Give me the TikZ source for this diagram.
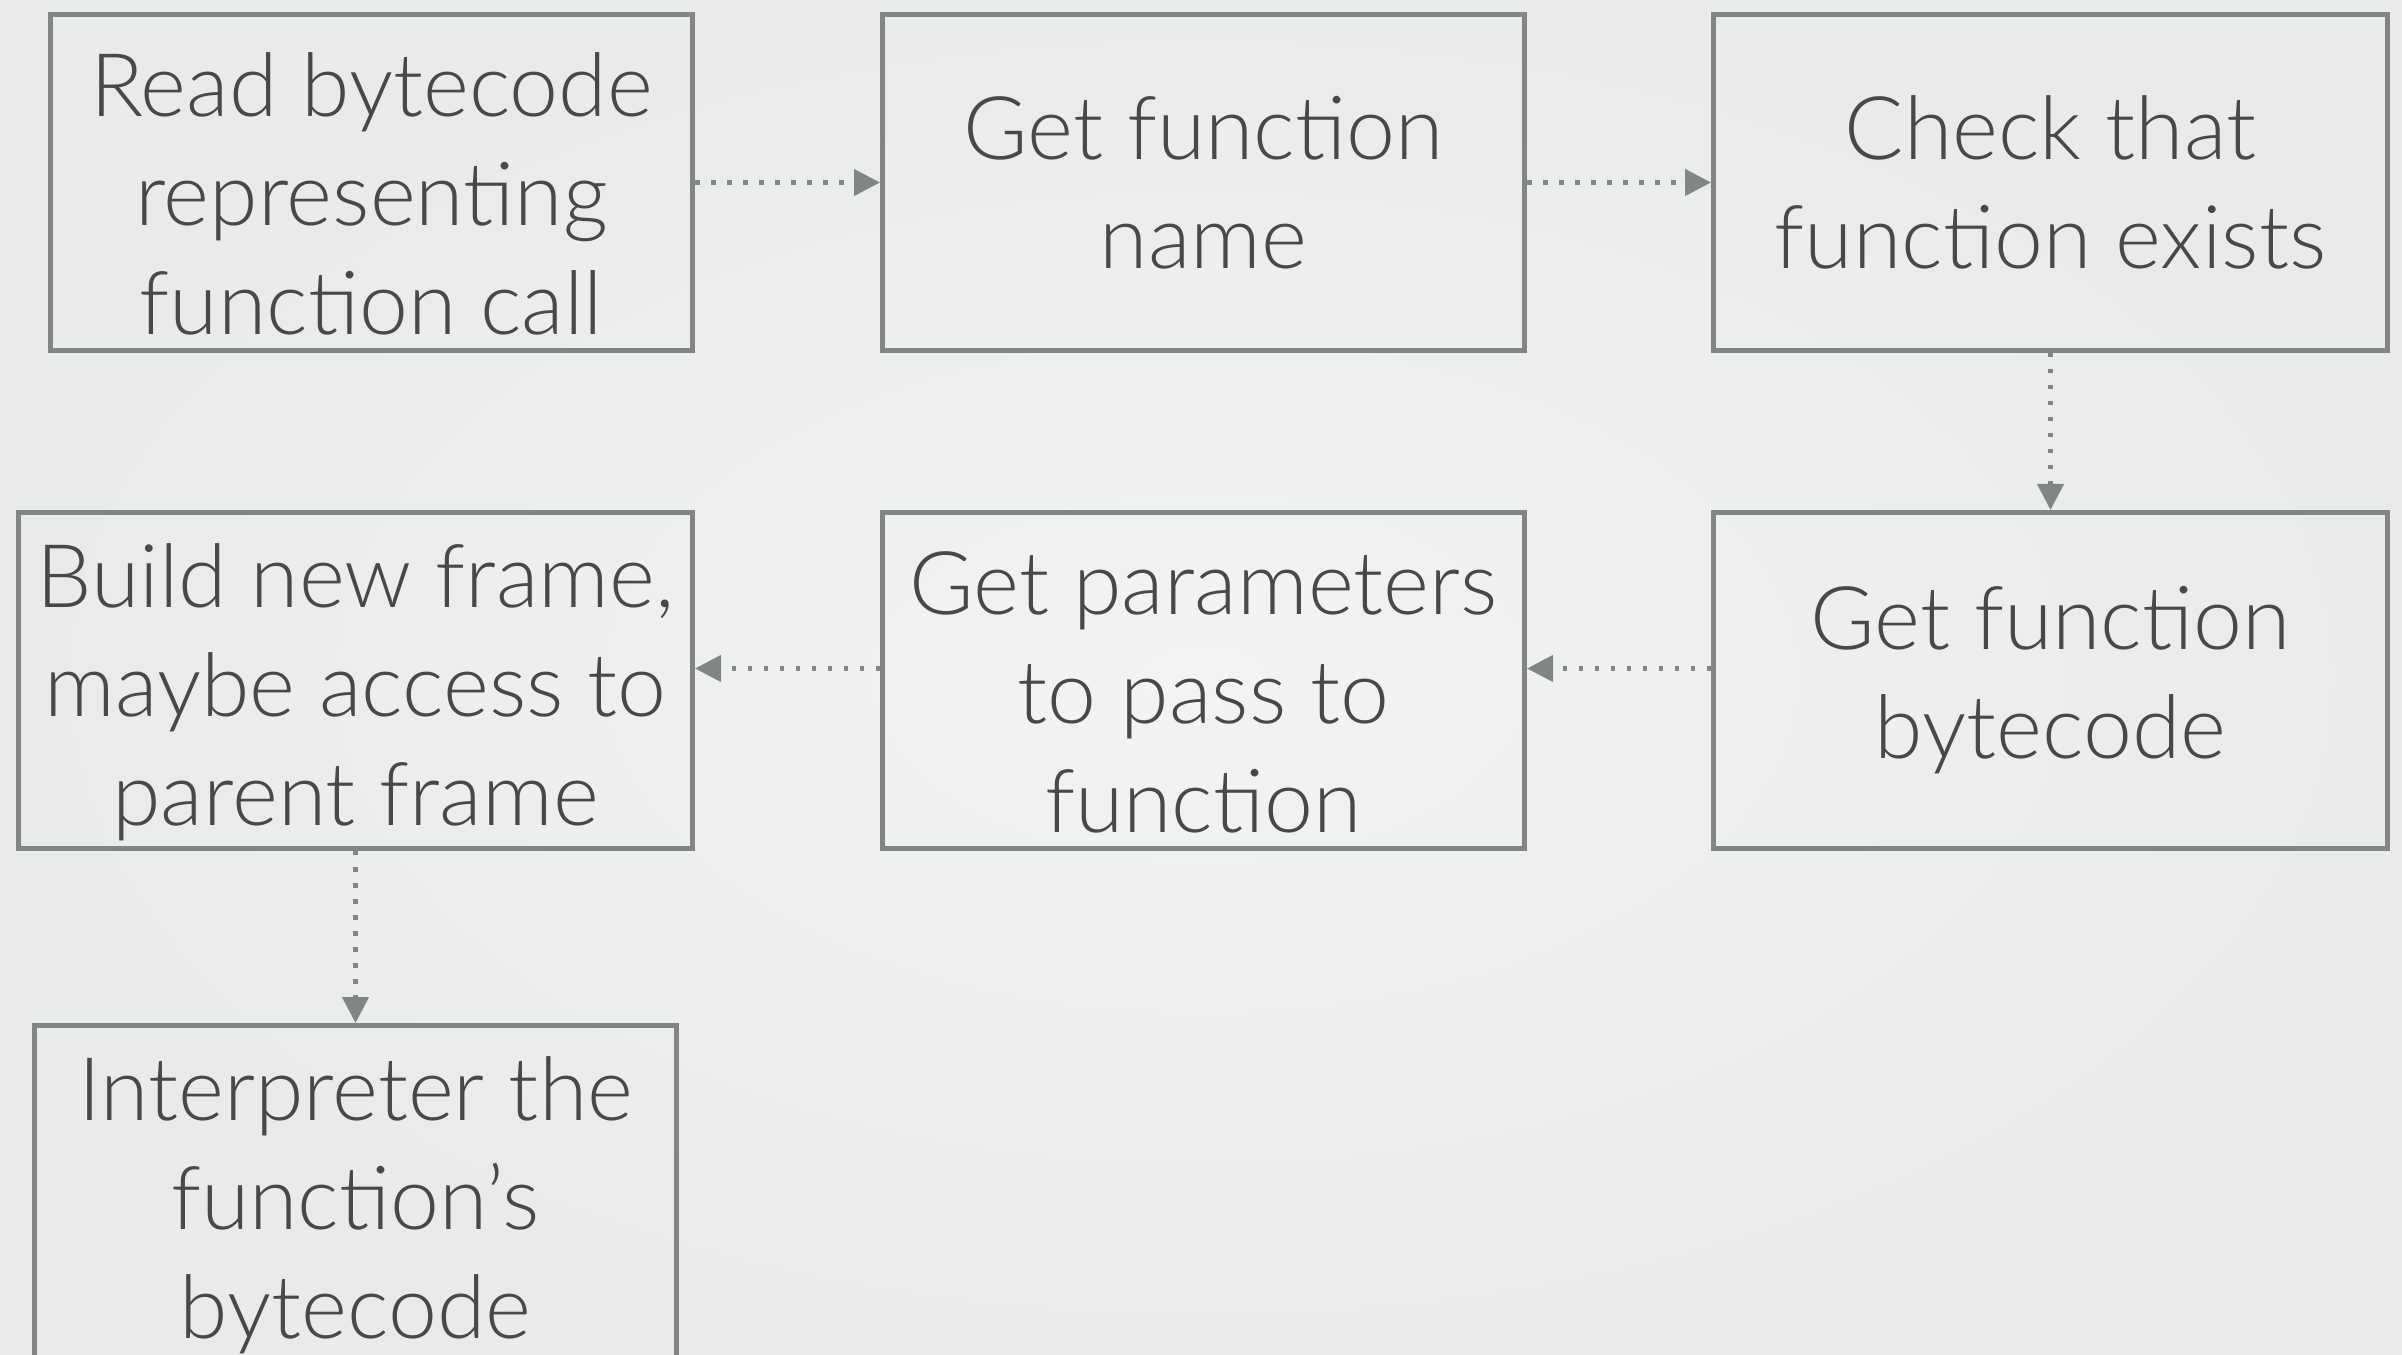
\documentclass[tikz,border=0pt]{standalone}
\usepackage{fontspec}
\setmainfont{Lato}[UprightFont={* Light}]
\usepackage{tikz}
\usetikzlibrary{positioning,arrows.meta,backgrounds}
\definecolor{boxline}{RGB}{128,134,131}
\definecolor{textgray}{RGB}{72,72,72}
\definecolor{bgcenter}{RGB}{242,243,245}
\definecolor{bgouter}{RGB}{233,234,236}
% three lines sit a bit lower in their box
\newcommand{\lowtop}{\rule{0pt}{0.87cm}}

\begin{document}
\begin{tikzpicture}[
  box/.style = {
    draw = boxline,
    line width = 0.05cm,
    rectangle,
    align = center,
    text = textgray,
    font = \fontsize{25}{31}\selectfont,
    minimum width = 6.42cm,
    minimum height = 3.36cm,
    inner sep = 0pt,
  },
  widebox/.style = {
    box,
    minimum width = 6.74cm,
  },
  flow/.style = {
    draw = boxline,
    line width = 0.045cm,
    dash pattern = on 0.045cm off 0.115cm,
  },
  >={Triangle[length=0.26cm,width=0.26cm]},
]

  \useasboundingbox (0,0) rectangle (24.02,-13.55);
  \shade[inner color=bgcenter,outer color=bgouter] (0,0) rectangle (24.02,-13.55);

  \node[box] (b1) at (3.715,-1.825) {\lowtop Read bytecode\\representing\\function call};
  \node[box] (b2) [right=1.85cm of b1] {Get function\\name};
  \node[widebox] (b3) [right=1.84cm of b2] {Check that\\function exists};

  \node[widebox] (b6) [below=1.57cm of b3] {Get function\\bytecode};
  \node[box] (b5) [below=1.57cm of b2] {\lowtop Get parameters\\to pass to\\function};
  \node[widebox] (b4) [below=1.57cm of b1.south east,anchor=north east] {\lowtop Build new frame,\\maybe access to\\parent frame};

  \node[box] (b7) [below=1.72cm of b4] {\lowtop Interpreter the\\function's\\bytecode};

  \draw[flow,->] (b1) -- (b2);
  \draw[flow,->] (b2) -- (b3);
  \draw[flow,->] (b3) -- (b6);
  \draw[flow,->] ([yshift=1.2mm]b6.west) -- ([yshift=1.2mm]b5.east);
  \draw[flow,->] ([yshift=1.2mm]b5.west) -- ([yshift=1.2mm]b4.east);
  \draw[flow,->] (b4) -- (b7);

\end{tikzpicture}
\end{document}
